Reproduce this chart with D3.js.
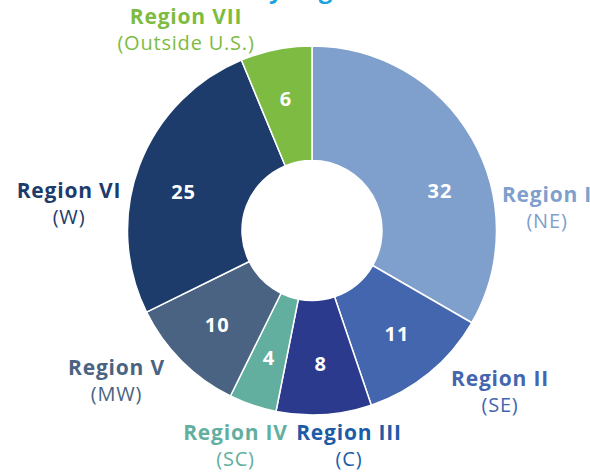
<!DOCTYPE html>
<html>
<head>
<meta charset="utf-8">
<script src="https://cdn.jsdelivr.net/npm/d3@7"></script>
<style>
  html, body { margin: 0; padding: 0; background: #ffffff; }
  svg { display: block; }
</style>
</head>
<body>
<svg id="chart" width="590" height="473"></svg>
<script>
// ---- data ----
const regions = ["Region I", "Region II", "Region III", "Region IV", "Region V", "Region VI", "Region VII"];
const subLabels = ["(NE)", "(SE)", "(C)", "(SC)", "(MW)", "(W)", "(Outside U.S.)"];
const counts = [32, 11, 8, 4, 10, 25, 6];
const sliceColors = ["#7f9fcd", "#4466ae", "#2b3a8d", "#62af9f", "#4a6382", "#1d3c6b", "#7dbb42"];
const labelColors = ["#7f9fcd", "#4466ae", "#1c5ca6", "#62af9f", "#4a6382", "#1d3c6b", "#7dbb42"];
const titleText = "by Region";

// ---- layout ----
const cx = 312, cy = 230.5, outerR = 184.5, innerR = 70, valueR = 134;
// small angular nudges (degrees) for value labels in the widest slices
const valueAngleShift = [12.7, 0, 0, 0, 0, -4, 0];
// external label anchors relative to pie centre (dx, dy of first-line baseline)
const outerLabelOffsets = [[235, -29], [188, 155.5], [37, 209.5], [-76.5, 209.5], [-195.5, 144.5], [-243, -32.5], [-126, -206.5]];

const svg = d3.select("#chart");

svg.append("text")
  .attr("x", cx).attr("y", -2)
  .attr("text-anchor", "middle")
  .attr("font-family", "'Open Sans', sans-serif")
  .attr("font-weight", 700)
  .attr("font-size", 24)
  .attr("fill", "#1ba3de")
  .text(titleText);

const pie = d3.pie().sort(null).value(d => d)(counts);
const arc = d3.arc().innerRadius(innerR).outerRadius(outerR);

const g = svg.append("g").attr("transform", `translate(${cx},${cy})`);

g.selectAll("path.slice")
  .data(pie)
  .join("path")
  .attr("class", "slice")
  .attr("d", arc)
  .attr("fill", (d, i) => sliceColors[i])
  .attr("stroke", "#ffffff")
  .attr("stroke-width", 1.5)
  .attr("stroke-linejoin", "round");

g.selectAll("text.value")
  .data(pie)
  .join("text")
  .attr("class", "value")
  .attr("transform", (d, i) => {
    const a = (d.startAngle + d.endAngle) / 2 + valueAngleShift[i] * Math.PI / 180;
    return `translate(${valueR * Math.sin(a)},${-valueR * Math.cos(a)})`;
  })
  .attr("dy", "0.36em")
  .attr("text-anchor", "middle")
  .attr("font-family", "'Open Sans', sans-serif")
  .attr("font-weight", 700)
  .attr("font-size", 20)
  .attr("letter-spacing", 1)
  .attr("fill", "#ffffff")
  .text(d => d.data);

const lab = g.selectAll("g.outer")
  .data(pie)
  .join("g")
  .attr("class", "outer")
  .attr("transform", (d, i) => `translate(${outerLabelOffsets[i][0]},${outerLabelOffsets[i][1]})`);

lab.append("text")
  .attr("text-anchor", "middle")
  .attr("font-family", "'Open Sans', sans-serif")
  .attr("font-weight", 700)
  .attr("font-size", 21)
  .attr("letter-spacing", 0.8)
  .attr("fill", (d, i) => labelColors[i])
  .text((d, i) => regions[i]);

lab.append("text")
  .attr("y", 26)
  .attr("text-anchor", "middle")
  .attr("font-family", "'Open Sans', sans-serif")
  .attr("font-weight", 400)
  .attr("font-size", 20)
  .attr("letter-spacing", 0.8)
  .attr("fill", (d, i) => labelColors[i])
  .text((d, i) => subLabels[i]);
</script>
</body>
</html>
